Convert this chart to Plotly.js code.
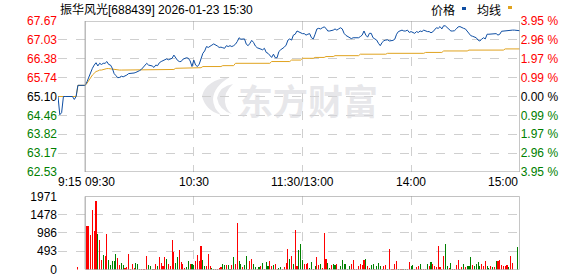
<!DOCTYPE html>
<html><head><meta charset="utf-8">
<script src="https://cdn.plot.ly/plotly-3.0.1.min.js"></script>
<style>html,body{margin:0;padding:0;background:#fff}#chart{width:578px;height:276px}</style>
</head><body><div id="chart"></div>
<script>
// ---- data (minutes relative to 09:30; first point = 9:15) ----
const startMinute = -15;
const preClose = 65.10;
const titleText = '振华风光[688439] 2026-01-23 15:30';
const legendNames = ['价格', '均线'];
const xTickVals = [-15, 0, 60, 120, 180, 240];
const xTickLabels = ['9:15', '09:30', '10:30', '11:30/13:00', '14:00', '15:00'];
const priceTickVals = [62.53, 63.17, 63.82, 64.46, 65.10, 65.74, 66.38, 67.03, 67.67];
const priceTickText = ['62.53', '63.17', '63.82', '64.46', '65.10', '65.74', '66.38', '67.03', '67.67'];
const pctTickText = ['3.95 %', '2.96 %', '1.97 %', '0.99 %', '0.00 %', '0.99 %', '1.97 %', '2.96 %', '3.95 %'];
const volTickVals = [0, 493, 986, 1478, 1971];
const volTickText = ['0', '493', '986', '1478', '1971'];

const price = [
 65.10,64.48,64.55,65.10,65.10,65.10,65.10,65.10,65.10,65.00,65.10,65.48,65.48,65.48,65.48,65.48,
 65.60,65.77,65.89,66.06,66.17,66.25,66.14,66.23,66.19,66.23,
 66.23,66.29,66.19,66.17,66.06,65.88,65.81,65.74,65.75,65.79,
 65.77,65.79,65.83,65.88,65.88,65.89,65.90,65.92,65.94,65.98,
 66.02,66.09,66.17,66.23,66.17,66.16,66.14,66.09,66.17,66.15,
 66.25,66.29,66.32,66.35,66.38,66.35,66.37,66.40,66.51,66.40,
 66.33,66.29,66.29,66.37,66.41,66.42,66.40,66.31,66.12,66.34,
 66.17,66.12,66.20,66.42,66.57,66.65,66.80,66.77,66.80,66.85,
 66.89,66.86,
 66.82,66.77,66.78,66.76,66.74,66.83,66.80,66.83,
 66.80,66.83,66.88,66.97,67.10,67.05,67.05,67.06,66.88,66.83,
 66.91,67.01,66.94,66.82,66.76,66.73,66.72,66.69,66.74,66.60,
 66.57,66.51,66.43,66.54,66.42,66.42,66.63,66.69,66.73,66.78,
 66.85,67.02,67.06,67.02,67.19,67.22,67.33,67.30,67.26,67.24,
 67.24,67.19,67.22,67.24,67.10,67.06,67.22,67.40,67.42,67.40,
 67.44,67.47,67.42,67.33,67.33,67.34,67.36,67.40,67.36,67.40,
 67.44,67.40,67.25,67.18,67.15,67.12,67.07,67.10,67.10,67.11,
 67.10,67.14,67.19,67.33,67.19,67.12,67.25,
 67.25,67.10,67.06,
 67.02,66.91,66.83,66.94,67.00,67.02,67.03,66.99,66.99,67.01,
 67.05,67.22,67.31,67.33,67.36,67.33,67.33,67.36,67.28,67.31,
 67.28,67.25,67.31,67.28,67.33,67.31,67.36,67.33,67.31,67.31,
 67.27,67.30,67.37,67.44,67.42,67.48,67.40,67.51,67.50,67.44,
 67.39,67.33,67.33,67.34,67.40,67.47,67.48,67.44,67.42,67.40,
 67.33,67.24,67.17,67.15,67.12,67.10,67.02,66.99,67.05,67.10,
 67.06,67.22,67.22,67.23,67.24,67.23,67.24,67.19,67.22,67.32,
 67.33,67.33,67.33,67.34,67.36,67.36,67.36,67.36,67.36,67.34
];

const avgPrice = [
 65.10,65.10,65.10,65.10,65.10,65.10,65.10,65.10,65.10,65.10,65.10,
 65.48,65.48,65.48,65.48,65.48,
 65.55,65.66,65.74,65.83,65.89,65.95,65.97,66.00,66.00,66.02,66.04,66.05,66.05,66.04,66.04,66.01,
 66.00,66.00,66.00,66.00,66.00,66.00,66.00,66.00,66.00,66.00,
 66.00,66.00,66.00,66.00,66.00,66.00,66.00,66.00,66.00,66.00,
 66.00,66.00,66.00,66.00,66.00,66.00,66.00,66.00,
 66.02,66.02,66.02,66.02,66.02,
 66.06,66.06,66.06,66.06,66.06,66.06,66.06,66.06,66.06,
 66.08,66.08,66.08,66.08,66.08,66.08,
 66.12,66.12,66.12,66.12,66.12,66.12,66.12,66.12,66.12,66.12,66.12,
 66.15,66.15,66.15,66.15,66.15,66.15,66.15,
 66.23,66.23,66.23,66.23,66.23,66.23,66.23,66.23,66.23,66.23,
 66.23,66.23,66.23,66.23,66.23,66.23,66.23,66.23,66.23,66.23,
 66.29,66.29,66.29,66.29,66.29,66.29,66.29,66.29,66.29,66.29,66.29,
 66.34,66.34,66.34,66.34,66.34,66.34,
 66.40,66.40,66.40,66.40,66.40,66.40,66.40,
 66.43,66.43,66.43,66.43,66.43,66.43,
 66.46,66.46,66.46,66.46,66.46,
 66.49,66.49,66.49,66.49,66.49,66.49,66.49,66.49,66.49,66.49,66.49,66.49,66.49,66.49,
 66.54,66.54,66.54,66.54,66.54,66.54,66.54,66.54,66.54,66.54,66.54,66.54,66.54,66.54,66.54,
 66.57,66.57,66.57,66.57,66.57,66.57,66.57,66.57,66.57,66.57,
 66.57,66.57,66.57,66.57,66.57,66.57,66.57,66.57,66.57,66.57,66.57,
 66.60,66.60,66.60,66.60,66.60,66.60,66.60,66.60,66.60,66.60,
 66.65,66.65,66.65,66.65,66.65,66.65,66.65,66.65,66.65,66.65,66.65,66.65,66.65,66.65,
 66.68,66.68,66.68,66.68,66.68,66.68,66.68,66.68,66.68,66.68,
 66.68,66.68,66.68,66.68,66.68,66.68,66.68,66.68,66.68,66.68,
 66.72,66.72,66.72,66.72,66.72,66.72,66.72,66.72,66.72
];

const volume = [
 0,0,0,0,0,0,0,0,0,0,0,75,0,0,0,0,
 1158,1158,916,1589,1024,1841,950,781,269,404,
 377,943,269,117,242,224,422,314,117,180,
 117,45,63,422,27,135,45,180,135,27,
 27,27,27,377,117,90,27,27,135,81,
 350,162,90,350,296,135,90,781,467,180,
 350,512,189,153,45,63,224,153,135,117,
 242,386,224,620,269,90,90,422,90,45,
 27,27,27,45,63,135,117,
 117,108,27,108,350,135,1239,224,135,63,
 108,377,27,242,296,153,63,27,63,90,
 180,27,207,90,242,90,117,135,27,45,
 63,27,63,180,539,296,377,135,1051,90,
 512,700,269,135,135,180,45,207,27,90,
 332,108,135,45,970,296,180,45,117,135,
 117,153,27,90,269,153,153,27,90,153,
 269,27,27,90,135,108,269,296,90,45,
 117,135,
 27,90,162,90,27,90,117,27,539,27,
 27,135,216,27,27,27,27,27,27,189,
 90,117,27,63,90,135,27,27,27,153,
 90,189,153,90,63,629,63,27,359,700,
 90,45,162,27,27,108,269,27,63,144,
 63,90,90,332,117,90,135,189,90,135,
 90,242,90,45,90,63,63,224,224,269,
 117,90,90,108,63,359,180,0,0,602,0
];
// r = up (red), g = down (green)
const volumeDir = (
 'rrrrrrrrrrrrrrrr' +
 'rrrrrrgrrg' + 'rrgggggrrg' + 'grrrrrrggr' + 'rrrrgggrrg' + 'rrrrgrrrrg' + 'grrrrggrgg' + 'rrrrggrrrg' + 'grrrrgg' +
 'rggrgrrggr' + 'ggrrrggrgr' + 'grggrrgrrg' + 'grrrrgrgrr' + 'gggrrrggrg' + 'rrgrrrggrg' + 'grrggggggr' + 'rrrrrrrgrr' + 'gg' +
 'rgggrrrgrr' + 'rrrgrrggrr' + 'ggrrrgrrrg' + 'rgrrrrrrrg' + 'grgrrrrgrg' + 'rgggrggggr' + 'rrggrgrgrr' + 'rrrrgrrrrgr'
).split('');

// ---- build ----
const RED = '#ff0000', GREEN = '#008000', BLACK = '#000000';
const minutes = price.map((_, i) => i + startMinute);
const volMinutes = volume.map((_, i) => i + startMinute);
const volColors = volumeDir.map(d => d === 'r' ? RED : GREEN);
const tickColor = v => Math.abs(v - preClose) < 1e-9 ? BLACK : (v > preClose ? RED : GREEN);
const colored = (txt, v) => `<span style="color:${tickColor(v)}">${txt}</span>`;

const FONT = 'Liberation Sans, Arial, Noto Sans CJK SC, sans-serif';
const W = 578, H = 276;
const px = x => x / W, py = y => 1 - y / H;

const xDom = [px(58), px(519.7)];
const xRange = [xTickVals[0], xTickVals[xTickVals.length - 1]];
const gridX = [xTickVals[0], xTickVals[2], xTickVals[3], xTickVals[4]];
const pRange = [priceTickVals[0], priceTickVals[priceTickVals.length - 1]];
const vRange = [volTickVals[0], volTickVals[volTickVals.length - 1]];
const GRID = '#cfcfcf';

const traces = [
  {x: minutes, y: avgPrice, type: 'scatter', mode: 'lines', xaxis: 'x', yaxis: 'y',
   line: {color: '#e0a31f', width: 1}, hoverinfo: 'skip'},
  {x: minutes, y: price, type: 'scatter', mode: 'lines', xaxis: 'x', yaxis: 'y',
   line: {color: '#0e4ea3', width: 1}, hoverinfo: 'skip'},
  // carries the right-hand percentage axis (invisible)
  {x: minutes, y: price, type: 'scatter', mode: 'lines', xaxis: 'x', yaxis: 'y3',
   line: {color: 'rgba(0,0,0,0)', width: 0}, hoverinfo: 'skip'},
  {x: volMinutes, y: volume, type: 'bar', xaxis: 'x2', yaxis: 'y2', width: 0.6,
   marker: {color: volColors, line: {width: 0}}, hoverinfo: 'skip'}
];

const axisCommon = {showline: false, zeroline: false, ticks: '', fixedrange: true, ticklabeloverflow: 'allow'};
const layout = {
  width: W, height: H, margin: {l: 0, r: 0, t: 0, b: 0},
  paper_bgcolor: '#fff', plot_bgcolor: 'rgba(0,0,0,0)', showlegend: false,
  font: {family: FONT, size: 12, color: '#000'},
  bargap: 0,
  xaxis: Object.assign({}, axisCommon, {domain: xDom, range: xRange, anchor: 'y',
    tickvals: gridX, showticklabels: false, showgrid: true, gridcolor: GRID, griddash: 'dash', gridwidth: 1}),
  yaxis: Object.assign({}, axisCommon, {domain: [py(172), py(21)], range: pRange, anchor: 'x',
    tickvals: priceTickVals, ticktext: priceTickText.map((t, i) => colored(t, priceTickVals[i])),
    showgrid: true, gridcolor: GRID, griddash: 'dash', gridwidth: 1, tickfont: {family: FONT, size: 12}}),
  yaxis3: Object.assign({}, axisCommon, {overlaying: 'y', side: 'right', range: pRange, anchor: 'x',
    tickvals: priceTickVals, ticktext: pctTickText.map((t, i) => colored(t, priceTickVals[i])),
    showgrid: false, tickfont: {family: FONT, size: 12}}),
  xaxis2: Object.assign({}, axisCommon, {domain: xDom, range: xRange, anchor: 'y2',
    tickvals: gridX, showticklabels: false, showgrid: true, gridcolor: GRID, griddash: 'dash', gridwidth: 1}),
  yaxis2: Object.assign({}, axisCommon, {domain: [py(269.5), py(196.3)], range: vRange, anchor: 'x2',
    tickvals: volTickVals, ticktext: volTickText, showgrid: true, gridcolor: GRID, griddash: 'dash', gridwidth: 1,
    tickfont: {family: FONT, size: 12, color: '#000'}}),
  shapes: [
    {type: 'rect', xref: 'x', yref: 'y', x0: 0, x1: xRange[1], y0: pRange[0], y1: pRange[1],
     line: {color: '#9a9a9a', width: 1}, layer: 'above'},
    {type: 'rect', xref: 'x2', yref: 'y2', x0: 0, x1: xRange[1], y0: vRange[0], y1: vRange[1],
     line: {color: '#9a9a9a', width: 1}, layer: 'above'},
    // legend swatches
    {type: 'rect', xref: 'paper', yref: 'paper', x0: px(462), x1: px(466), y0: py(10), y1: py(7),
     fillcolor: '#0e4ea3', line: {width: 0}},
    {type: 'rect', xref: 'paper', yref: 'paper', x0: px(508), x1: px(512), y0: py(9), y1: py(6),
     fillcolor: '#e0a31f', line: {width: 0}},
    // watermark logo (decorative)
    {type: 'path', xref: 'paper', yref: 'paper', layer: 'below', fillcolor: '#e6e6e9', line: {width: 0},
     path: `M ${px(202)},${py(96)} Q ${px(206)},${py(80)} ${px(230)},${py(77)} Q ${px(214)},${py(86)} ${px(213)},${py(99)} Q ${px(213)},${py(108)} ${px(221)},${py(115)} Q ${px(205)},${py(110)} ${px(202)},${py(96)} Z`},
    {type: 'path', xref: 'paper', yref: 'paper', layer: 'below', fillcolor: '#e6e6e9', line: {width: 0},
     path: `M ${px(217)},${py(98)} Q ${px(220)},${py(86)} ${px(233)},${py(84)} Q ${px(224)},${py(92)} ${px(225)},${py(102)} Q ${px(226)},${py(110)} ${px(232)},${py(114)} Q ${px(219)},${py(110)} ${px(217)},${py(98)} Z`}
  ],
  annotations: []
};

// title
layout.annotations.push({text: titleText, xref: 'paper', yref: 'paper', x: px(58), y: py(9.5),
  xanchor: 'left', yanchor: 'middle', showarrow: false, font: {family: FONT, size: 12, color: '#000'}});
// legend texts
layout.annotations.push({text: legendNames[0], xref: 'paper', yref: 'paper', x: px(443), y: py(9),
  xanchor: 'center', yanchor: 'middle', showarrow: false, font: {family: 'Noto Sans CJK SC', size: 12, color: '#000'}});
layout.annotations.push({text: legendNames[1], xref: 'paper', yref: 'paper', x: px(488.5), y: py(9),
  xanchor: 'center', yanchor: 'middle', showarrow: false, font: {family: 'Noto Sans CJK SC', size: 12, color: '#000'}});
// watermark text
layout.annotations.push({text: '<b>东方财富</b>', xref: 'paper', yref: 'paper', x: px(307.5), y: py(99),
  xanchor: 'center', yanchor: 'middle', showarrow: false,
  font: {family: 'Noto Sans CJK SC', size: 35, color: 'rgba(215,215,220,0.6)'}});
// x tick labels
xTickVals.forEach((v, i) => {
  const anchor = i <= 1 ? 'left' : (i === xTickVals.length - 1 ? 'right' : 'center');
  layout.annotations.push({text: xTickLabels[i], xref: 'x', yref: 'paper', x: v, y: py(181.7),
    xanchor: anchor, yanchor: 'middle', showarrow: false, xshift: i <= 1 ? -2 : 0,
    font: {family: FONT, size: 12, color: '#000'}});
});

Plotly.newPlot('chart', traces, layout, {staticPlot: true, displayModeBar: false});
</script></body></html>
